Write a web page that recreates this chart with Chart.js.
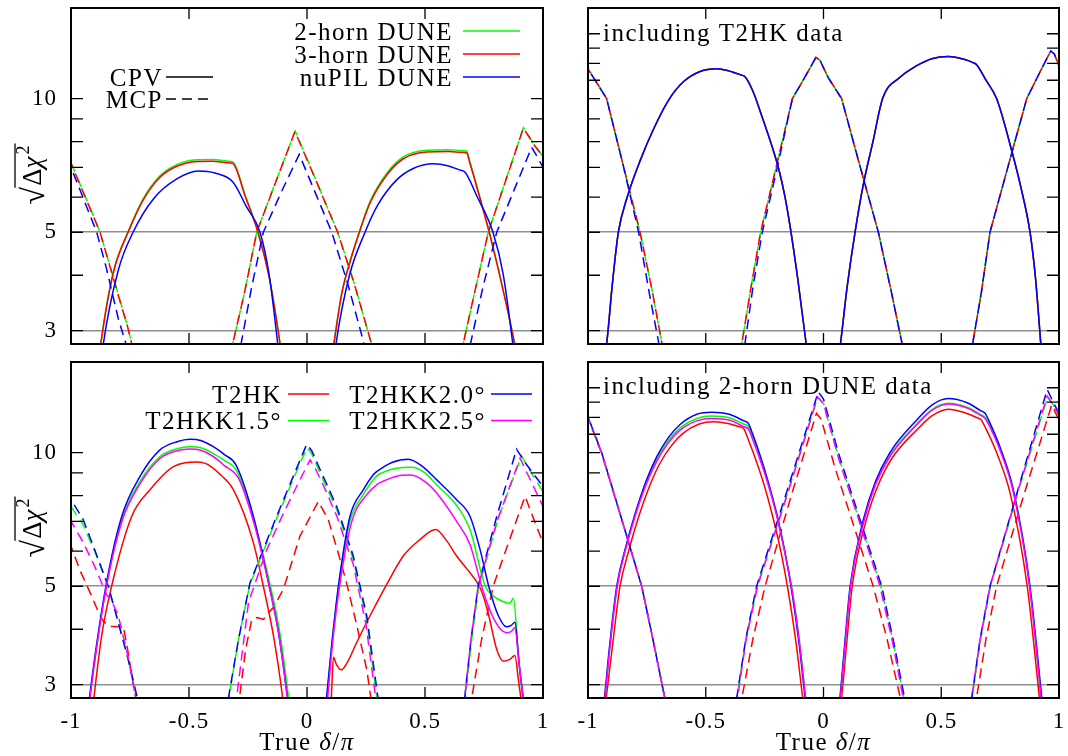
<!DOCTYPE html>
<html>
<head>
<meta charset="utf-8">
<script src="https://cdn.jsdelivr.net/npm/chart.js@4"></script>
<style>
  body { margin: 0; background: #fff; }
  #wrap { position: relative; width: 1068px; height: 756px; }
  canvas { position: absolute; }
</style>
</head>
<body>
<div id="wrap">
  <canvas id="tl" width="548" height="350" style="left:0;top:0"></canvas>
  <canvas id="tr" width="520" height="350" style="left:548px;top:0"></canvas>
  <canvas id="bl" width="548" height="406" style="left:0;top:350px"></canvas>
  <canvas id="br" width="520" height="406" style="left:548px;top:350px"></canvas>
</div>
<script>
// axis ticks
const deltaTicks = [-1, -0.5, 0, 0.5, 1];
const chiTicksLeft = [3, 4, 5, 6, 7, 8, 9, 10];
const chiTicksRight = [3, 4, 5, 6, 7, 8, 9, 10, 11, 12, 13, 14];
const chiLabels = [3, 5, 10];
const sigmaLines = [3, 5];

// ---- top left: DUNE configurations, [delta/pi, sqrt(dchi2)] ----
const dune2hCPV = [
  [[-0.88,2.65],[-0.874,2.8],[-0.845,3.52],[-0.814,4.2],[-0.758,5.02],[-0.695,5.94],[-0.623,6.7],[-0.552,7.1],[-0.467,7.28],[-0.4,7.29],[-0.335,7.23],[-0.314,7.2],[-0.263,6.08],[-0.208,5.02],[-0.16,3.96],[-0.114,2.8],[-0.108,2.65]],
  [[0.11,2.7],[0.114,2.8],[0.147,3.64],[0.182,4.3],[0.222,5.02],[0.267,5.86],[0.338,6.79],[0.408,7.39],[0.507,7.65],[0.6,7.67],[0.655,7.64],[0.677,7.61],[0.69,7.21],[0.705,6.77],[0.725,6.2],[0.75,5.55],[0.775,4.95],[0.81,4.15],[0.845,3.44],[0.87,2.98],[0.89,2.64]]
];
const dune3hCPV = [
  [[-0.88,2.65],[-0.874,2.8],[-0.845,3.5],[-0.814,4.18],[-0.758,5.0],[-0.695,5.9],[-0.623,6.65],[-0.552,7.04],[-0.467,7.22],[-0.4,7.23],[-0.335,7.17],[-0.314,7.14],[-0.263,6.05],[-0.208,5.0],[-0.16,3.95],[-0.114,2.8],[-0.108,2.65]],
  [[0.11,2.7],[0.114,2.8],[0.147,3.63],[0.182,4.28],[0.222,5.0],[0.267,5.82],[0.338,6.73],[0.408,7.32],[0.507,7.58],[0.6,7.6],[0.655,7.57],[0.677,7.54],[0.69,7.16],[0.705,6.73],[0.725,6.17],[0.75,5.53],[0.775,4.93],[0.81,4.14],[0.845,3.43],[0.87,2.97],[0.89,2.63]]
];
const nupilCPV = [
  [[-0.868,2.65],[-0.863,2.8],[-0.8,4.1],[-0.737,5.0],[-0.65,5.95],[-0.55,6.6],[-0.46,6.87],[-0.39,6.8],[-0.314,6.49],[-0.256,5.7],[-0.199,5.0],[-0.16,4.0],[-0.124,2.8],[-0.119,2.65]],
  [[0.118,2.65],[0.123,2.8],[0.18,4.0],[0.246,5.0],[0.3,5.76],[0.38,6.56],[0.45,6.96],[0.534,7.13],[0.6,7.05],[0.645,6.91],[0.669,6.83],[0.719,6.04],[0.788,5.0],[0.831,4.03],[0.872,2.8],[0.877,2.65]]
];
const dune2hMCP = [
  [[-1,7.17],[-0.95,6.2],[-0.9,5.37],[-0.877,5.0],[-0.85,4.47],[-0.8,3.62],[-0.76,3.07],[-0.735,2.7]],
  [[-0.322,2.7],[-0.265,3.65],[-0.213,5.0],[-0.13,6.55],[-0.05,8.45],[0.04,6.52],[0.13,5.0],[0.2,3.84],[0.282,2.7]],
  [[0.655,2.7],[0.71,3.65],[0.768,5.0],[0.84,6.5],[0.917,8.6],[0.96,7.92],[1.0,7.4]]
];
const dune3hMCP = [
  [[-1,7.15],[-0.95,6.18],[-0.9,5.35],[-0.877,5.0],[-0.85,4.46],[-0.8,3.61],[-0.76,3.06],[-0.735,2.7]],
  [[-0.322,2.7],[-0.265,3.65],[-0.213,5.0],[-0.13,6.54],[-0.051,8.43],[0.04,6.5],[0.13,5.0],[0.2,3.83],[0.282,2.7]],
  [[0.655,2.7],[0.71,3.65],[0.768,5.0],[0.84,6.49],[0.917,8.58],[0.96,7.9],[1.0,7.39]]
];
const nupilMCP = [
  [[-1,7.0],[-0.95,6.0],[-0.891,5.0],[-0.85,4.15],[-0.8,3.2],[-0.758,2.7]],
  [[-0.285,2.7],[-0.235,3.75],[-0.185,5.0],[-0.11,6.14],[-0.033,7.49],[0.035,6.14],[0.105,5.0],[0.175,3.79],[0.25,2.7]],
  [[0.686,2.7],[0.745,3.75],[0.804,5.0],[0.88,6.27],[0.952,7.77],[0.975,7.4],[1.0,7.0]]
];

// ---- top right: DUNE + T2HK ----
const withT2hkCPV = [
  [[-0.93,2.65],[-0.921,2.8],[-0.897,3.8],[-0.871,5.0],[-0.833,6.01],[-0.779,7.24],[-0.723,8.51],[-0.659,9.9],[-0.595,10.91],[-0.524,11.51],[-0.453,11.67],[-0.39,11.5],[-0.35,11.3],[-0.333,11.2],[-0.3,10.4],[-0.27,9.4],[-0.213,7.64],[-0.188,6.87],[-0.165,6.06],[-0.142,5.16],[-0.11,3.95],[-0.075,2.84],[-0.07,2.7]],
  [[0.065,2.65],[0.07,2.75],[0.1,3.75],[0.134,5.0],[0.169,6.4],[0.21,8.0],[0.251,10.0],[0.325,11.17],[0.396,11.86],[0.46,12.3],[0.53,12.44],[0.6,12.25],[0.635,12.05],[0.65,11.92],[0.69,11.0],[0.735,10.0],[0.799,7.64],[0.84,6.25],[0.877,5.0],[0.9,3.95],[0.925,2.7]]
];
const withT2hkMCP = [
  [[-1,11.66],[-0.96,10.8],[-0.921,10.0],[-0.85,7.06],[-0.779,5.0],[-0.73,3.75],[-0.68,2.7]],
  [[-0.352,2.7],[-0.31,3.7],[-0.267,5.0],[-0.2,7.05],[-0.132,10.0],[-0.08,11.15],[-0.032,12.38],[-0.015,12.2],[0.02,11.15],[0.077,10.0],[0.15,7.2],[0.233,5.0],[0.29,3.63],[0.34,2.7]],
  [[0.628,2.7],[0.67,3.65],[0.707,5.0],[0.78,6.92],[0.863,10.0],[0.92,11.5],[0.965,12.81],[0.98,12.6],[1.0,11.85]]
];
const withT2hkNupilMCP = [
  [[-1,11.66],[-0.96,10.8],[-0.921,10.0],[-0.85,7.06],[-0.785,5.0],[-0.74,3.65],[-0.693,2.7]],
  [[-0.338,2.7],[-0.3,3.75],[-0.26,5.0],[-0.2,6.85],[-0.132,10.0],[-0.08,11.15],[-0.032,12.38],[-0.015,12.2],[0.02,11.15],[0.077,10.0],[0.15,7.2],[0.233,5.0],[0.29,3.63],[0.34,2.7]],
  [[0.628,2.7],[0.67,3.65],[0.707,5.0],[0.78,6.92],[0.863,10.0],[0.92,11.5],[0.965,12.81],[0.98,12.6],[1.0,11.85]]
];

// ---- bottom left: T2HK / T2HKK ----
const t2hkCPV = [
  [[-0.908,2.65],[-0.903,2.8],[-0.87,3.87],[-0.828,5.0],[-0.743,7.18],[-0.665,8.25],[-0.566,9.3],[-0.467,9.52],[-0.435,9.47],[-0.419,9.4],[-0.37,8.95],[-0.312,8.25],[-0.227,6.26],[-0.185,5.0],[-0.14,3.81],[-0.103,2.8],[-0.098,2.65]],
  [[0.1,2.65],[0.103,2.8],[0.112,3.46],[0.125,3.33],[0.145,3.24],[0.175,3.4],[0.21,3.73],[0.267,4.29],[0.338,5.05],[0.408,5.85],[0.479,6.37],[0.545,6.71],[0.59,6.35],[0.634,5.85],[0.68,5.45],[0.73,5.0],[0.75,4.7],[0.77,4.3],[0.804,3.6],[0.832,3.39],[0.86,3.42],[0.881,3.49],[0.895,3.1],[0.91,2.7]]
];
const t2hkk15CPV = [
  [[-0.925,2.65],[-0.92,2.8],[-0.852,4.95],[-0.785,7.05],[-0.708,8.6],[-0.623,9.8],[-0.551,10.2],[-0.496,10.31],[-0.45,10.25],[-0.397,9.95],[-0.35,9.6],[-0.301,9.15],[-0.227,7.1],[-0.155,5.0],[-0.115,3.92],[-0.078,2.8],[-0.073,2.65]],
  [[0.082,2.7],[0.105,3.7],[0.133,4.95],[0.182,7.0],[0.239,8.05],[0.29,8.8],[0.309,8.96],[0.37,9.2],[0.443,9.27],[0.5,9.0],[0.55,8.45],[0.634,7.6],[0.691,6.7],[0.755,5.0],[0.79,4.75],[0.83,4.62],[0.86,4.58],[0.875,4.7],[0.895,3.5],[0.917,2.7]]
];
const t2hkk20CPV = [
  [[-0.927,2.65],[-0.922,2.8],[-0.852,5.0],[-0.785,7.18],[-0.708,8.83],[-0.623,10.14],[-0.551,10.58],[-0.496,10.72],[-0.45,10.65],[-0.397,10.31],[-0.35,9.9],[-0.301,9.38],[-0.227,7.18],[-0.16,5.0],[-0.12,3.91],[-0.083,2.8],[-0.078,2.65]],
  [[0.08,2.7],[0.105,3.7],[0.133,5.0],[0.182,7.18],[0.239,8.25],[0.28,8.9],[0.295,9.06],[0.32,9.25],[0.36,9.5],[0.429,9.66],[0.49,9.3],[0.55,8.68],[0.634,7.83],[0.691,7.18],[0.735,6.0],[0.77,5.0],[0.81,4.3],[0.845,4.05],[0.865,4.08],[0.881,4.15],[0.9,3.3],[0.92,2.7]]
];
const t2hkk25CPV = [
  [[-0.925,2.65],[-0.92,2.8],[-0.852,4.92],[-0.785,6.98],[-0.708,8.5],[-0.623,9.7],[-0.551,10.1],[-0.496,10.19],[-0.45,10.12],[-0.397,9.8],[-0.35,9.35],[-0.29,8.75],[-0.227,7.0],[-0.16,5.0],[-0.12,3.91],[-0.083,2.8],[-0.078,2.65]],
  [[0.085,2.7],[0.108,3.7],[0.138,5.0],[0.19,7.0],[0.25,8.0],[0.3,8.5],[0.32,8.61],[0.38,8.85],[0.44,8.9],[0.5,8.6],[0.55,8.1],[0.634,7.0],[0.691,6.2],[0.74,5.0],[0.78,4.35],[0.82,4.0],[0.845,3.93],[0.865,3.95],[0.88,4.03],[0.9,3.3],[0.92,2.7]]
];
const t2hkMCP = [
  [[-1,6.15],[-0.96,5.4],[-0.92,4.85],[-0.877,4.29],[-0.86,4.15],[-0.835,4.06],[-0.778,4.05],[-0.76,3.6],[-0.74,3.1],[-0.72,2.7]],
  [[-0.29,2.7],[-0.26,3.6],[-0.234,4.21],[-0.21,4.25],[-0.185,4.21],[-0.14,4.5],[-0.1,4.92],[-0.03,6.48],[0.048,7.76],[0.09,7.07],[0.13,6.0],[0.168,5.08],[0.21,4.1],[0.253,3.25],[0.275,2.7]],
  [[0.693,2.7],[0.74,3.8],[0.789,5.0],[0.86,6.4],[0.924,7.97],[0.96,7.1],[1.0,6.26]]
];
const t2hkk15MCP = [
  [[-1,7.56],[-0.95,6.9],[-0.9,6.0],[-0.842,5.0],[-0.8,4.15],[-0.76,3.46],[-0.713,2.7]],
  [[-0.336,2.7],[-0.29,3.8],[-0.242,5.05],[-0.129,7.1],[-0.03,9.45],[0.0,10.25],[0.02,9.95],[0.069,8.65],[0.126,7.45],[0.196,5.75],[0.253,4.2],[0.3,2.7]],
  [[0.668,2.7],[0.698,3.8],[0.728,5.0],[0.81,7.1],[0.909,9.83],[0.95,9.0],[1.0,8.17]]
];
const t2hkk20MCP = [
  [[-1,7.83],[-0.95,7.1],[-0.9,6.05],[-0.842,5.0],[-0.8,4.15],[-0.76,3.46],[-0.712,2.7]],
  [[-0.338,2.7],[-0.29,3.8],[-0.242,5.08],[-0.129,7.18],[-0.03,9.6],[-0.001,10.44],[0.02,10.1],[0.069,8.83],[0.126,7.56],[0.196,5.85],[0.253,4.29],[0.305,2.7]],
  [[0.665,2.7],[0.695,3.8],[0.725,5.0],[0.804,7.18],[0.888,10.18],[0.93,9.4],[1.0,8.39]]
];
const t2hkk25MCP = [
  [[-1,7.0],[-0.95,6.3],[-0.9,5.55],[-0.85,4.8],[-0.821,4.55],[-0.8,4.3],[-0.76,3.5],[-0.72,2.7]],
  [[-0.302,2.7],[-0.27,3.7],[-0.248,4.59],[-0.23,4.9],[-0.17,6.05],[-0.1,7.3],[-0.03,8.68],[0.013,9.63],[0.04,9.1],[0.08,8.2],[0.126,7.2],[0.196,5.6],[0.25,4.1],[0.295,2.7]],
  [[0.665,2.7],[0.695,3.8],[0.725,5.0],[0.805,7.0],[0.903,9.71],[0.95,8.6],[1.0,7.56]]
];

// ---- bottom right: T2HK / T2HKK + 2-horn DUNE ----
const dT2hkCPV = [
  [[-0.93,2.65],[-0.925,2.75],[-0.898,3.6],[-0.864,5.0],[-0.826,6.04],[-0.786,7.14],[-0.74,8.37],[-0.695,9.45],[-0.645,10.38],[-0.597,11.05],[-0.528,11.6],[-0.468,11.74],[-0.4,11.62],[-0.36,11.45],[-0.34,11.34],[-0.318,10.65],[-0.297,9.95],[-0.255,8.55],[-0.215,7.15],[-0.18,5.95],[-0.15,4.88],[-0.117,3.74],[-0.085,2.7]],
  [[0.07,2.65],[0.075,2.75],[0.098,3.7],[0.122,5.0],[0.18,7.0],[0.23,8.4],[0.29,9.7],[0.4,11.3],[0.46,12.1],[0.53,12.53],[0.6,12.3],[0.65,12.0],[0.67,11.84],[0.685,11.45],[0.735,10.0],[0.795,8.0],[0.865,5.0],[0.92,2.7]]
];
const dT2hkk15CPV = [
  [[-0.935,2.65],[-0.93,2.75],[-0.908,3.6],[-0.876,5.0],[-0.84,6.09],[-0.8,7.23],[-0.754,8.52],[-0.708,9.66],[-0.658,10.66],[-0.609,11.37],[-0.538,11.94],[-0.475,12.09],[-0.4,11.98],[-0.34,11.6],[-0.319,11.45],[-0.3,10.8],[-0.28,10.1],[-0.24,8.7],[-0.199,7.25],[-0.165,6.0],[-0.133,4.9],[-0.103,3.78],[-0.073,2.7]],
  [[0.065,2.65],[0.07,2.75],[0.092,3.7],[0.115,5.0],[0.17,7.0],[0.22,8.5],[0.282,9.85],[0.396,11.6],[0.46,12.5],[0.53,12.91],[0.61,12.65],[0.665,12.2],[0.686,12.0],[0.7,11.65],[0.749,10.2],[0.806,8.2],[0.875,5.0],[0.927,2.7]]
];
const dT2hkk20CPV = [
  [[-0.937,2.65],[-0.932,2.75],[-0.91,3.6],[-0.878,5.0],[-0.84,6.12],[-0.8,7.28],[-0.754,8.61],[-0.708,9.79],[-0.658,10.82],[-0.609,11.57],[-0.538,12.2],[-0.475,12.33],[-0.4,12.2],[-0.34,11.8],[-0.319,11.64],[-0.3,10.98],[-0.28,10.25],[-0.24,8.78],[-0.199,7.29],[-0.165,6.02],[-0.135,4.88],[-0.105,3.76],[-0.075,2.7]],
  [[0.063,2.65],[0.068,2.75],[0.09,3.7],[0.113,5.0],[0.169,7.05],[0.22,8.59],[0.282,10.0],[0.396,11.84],[0.46,12.8],[0.53,13.24],[0.61,12.95],[0.665,12.45],[0.686,12.26],[0.7,11.87],[0.749,10.31],[0.806,8.25],[0.877,5.0],[0.93,2.7]]
];
const dT2hkk25CPV = [
  [[-0.935,2.65],[-0.93,2.75],[-0.908,3.6],[-0.876,5.0],[-0.84,6.06],[-0.8,7.19],[-0.754,8.45],[-0.708,9.56],[-0.658,10.53],[-0.609,11.24],[-0.538,11.79],[-0.475,11.94],[-0.4,11.84],[-0.34,11.45],[-0.319,11.3],[-0.3,10.68],[-0.28,10.0],[-0.24,8.64],[-0.199,7.22],[-0.165,5.98],[-0.133,4.88],[-0.103,3.77],[-0.073,2.7]],
  [[0.065,2.65],[0.07,2.75],[0.092,3.7],[0.115,5.0],[0.17,6.95],[0.22,8.45],[0.282,9.8],[0.396,11.55],[0.46,12.45],[0.53,12.87],[0.61,12.6],[0.665,12.15],[0.686,11.95],[0.7,11.6],[0.749,10.15],[0.806,8.15],[0.875,5.0],[0.927,2.7]]
];
const dT2hkMCP = [
  [[-1,11.95],[-0.942,9.95],[-0.86,7.15],[-0.772,5.0],[-0.72,3.7],[-0.668,2.7]],
  [[-0.352,2.7],[-0.3,3.8],[-0.248,5.0],[-0.14,7.9],[-0.03,12.26],[-0.01,11.9],[0.05,9.2],[0.13,6.8],[0.211,5.0],[0.27,3.8],[0.333,2.7]],
  [[0.645,2.7],[0.69,3.8],[0.735,5.0],[0.85,8.0],[0.969,12.8],[0.985,12.3],[1.0,11.84]]
];
const dT2hkk15MCP = [
  [[-1,12.04],[-0.942,10.0],[-0.86,7.17],[-0.772,5.0],[-0.72,3.7],[-0.668,2.7]],
  [[-0.372,2.7],[-0.33,3.8],[-0.282,5.0],[-0.15,8.2],[-0.025,13.35],[0.0,12.9],[0.063,9.8],[0.15,7.1],[0.243,5.0],[0.298,3.7],[0.347,2.7]],
  [[0.627,2.7],[0.667,3.8],[0.709,5.0],[0.83,8.3],[0.952,13.35],[0.976,12.8],[1.0,12.1]]
];
const dT2hkk20MCP = [
  [[-1,12.04],[-0.942,10.0],[-0.86,7.17],[-0.772,5.0],[-0.72,3.7],[-0.668,2.7]],
  [[-0.373,2.7],[-0.33,3.8],[-0.284,5.0],[-0.15,8.35],[-0.022,13.71],[0.0,13.2],[0.063,10.0],[0.15,7.2],[0.247,5.0],[0.3,3.7],[0.35,2.7]],
  [[0.625,2.7],[0.665,3.8],[0.707,5.0],[0.83,8.4],[0.95,13.87],[0.975,13.0],[1.0,12.26]]
];
const dT2hkk25MCP = [
  [[-1,12.04],[-0.942,10.0],[-0.86,7.17],[-0.772,5.0],[-0.72,3.7],[-0.668,2.7]],
  [[-0.37,2.7],[-0.328,3.8],[-0.28,5.0],[-0.15,8.15],[-0.025,13.35],[0.0,12.9],[0.063,9.75],[0.15,7.05],[0.24,5.0],[0.295,3.7],[0.344,2.7]],
  [[0.625,2.7],[0.665,3.8],[0.707,5.0],[0.83,8.35],[0.95,13.4],[0.975,12.8],[1.0,12.15]]
];

const FONT = 'Liberation Serif';
const GREEN = '#00ff00', RED = '#ff0000', BLUE = '#0000ff', MAGENTA = '#ff00ff';
const dashShift = { [GREEN]: 0, [RED]: 5, [BLUE]: 10, [MAGENTA]: 3 };

// arcs -> chart points, with a null between arcs so the line breaks
function toPoints(arcs) {
  const out = [];
  arcs.forEach((arc, i) => {
    if (i > 0) out.push({ x: arc[0][0], y: null });
    arc.forEach(p => out.push({ x: p[0], y: p[1] }));
  });
  return out;
}

function series(arcs, color, dashed, layer) {
  return {
    data: toPoints(arcs),
    borderColor: color,
    borderWidth: 1.5,
    borderDash: dashed ? [10, 6] : [],
    borderDashOffset: dashed ? dashShift[color] : 0,
    // CPV arcs are smooth, MCP curves are straight-ish V shapes
    cubicInterpolationMode: dashed ? 'default' : 'monotone',
    capBezierPoints: false,
    pointRadius: 0,
    fill: false,
    tension: 0,
    spanGaps: false,
    clip: 0,
    order: layer
  };
}

// slightly wider text, closer to the TeX look of the original
const spacing = {
  id: 'spacing',
  beforeDraw(chart) { chart.ctx.letterSpacing = '1px'; }
};

// frame, inward ticks, legends and axis titles
const decor = {
  id: 'decor',
  afterDatasetsDraw(chart, args, o) {
    const { ctx, chartArea: a } = chart;
    const sx = chart.scales.x, sy = chart.scales.y;
    ctx.save();
    ctx.strokeStyle = '#000';
    ctx.lineWidth = 1.3;
    ctx.beginPath();
    sy.ticks.forEach(t => {
      const py = sy.getPixelForValue(t.value);
      ctx.moveTo(a.left, py); ctx.lineTo(a.left + 12, py);
      ctx.moveTo(a.right, py); ctx.lineTo(a.right - 12, py);
    });
    sx.ticks.forEach(t => {
      if (Math.abs(t.value) === 1) return;
      const px = sx.getPixelForValue(t.value);
      ctx.moveTo(px, a.top); ctx.lineTo(px, a.top + 11);
      ctx.moveTo(px, a.bottom); ctx.lineTo(px, a.bottom - 11);
    });
    ctx.stroke();
    ctx.lineWidth = 2;
    ctx.strokeRect(a.left, a.top, a.right - a.left, a.bottom - a.top);

    ctx.fillStyle = '#000';
    ctx.textBaseline = 'alphabetic';
    ctx.letterSpacing = '1.5px';
    ctx.font = '25px ' + FONT;
    (o.legend || []).forEach(e => {
      ctx.textAlign = 'right';
      ctx.fillText(e.text, e.tx, e.y + 8.5);
      ctx.beginPath();
      ctx.setLineDash(e.dash ? [10, 6] : []);
      ctx.strokeStyle = e.color;
      ctx.lineWidth = 1.5;
      ctx.moveTo(e.x0, e.y); ctx.lineTo(e.x1, e.y);
      ctx.stroke();
      ctx.setLineDash([]);
    });
    if (o.note) {
      ctx.textAlign = 'left';
      ctx.fillText(o.note.text, o.note.x, o.note.y);
    }
    if (o.xTitle) {
      const runs = [['True ', ''], ['δ', 'italic '], ['/', ''], ['π', 'italic ']];
      let w = 0;
      runs.forEach(r => { ctx.font = r[1] + '25px ' + FONT; w += ctx.measureText(r[0]).width; });
      let cx = o.xTitle.x - w / 2;
      ctx.textAlign = 'left';
      runs.forEach(r => {
        ctx.font = r[1] + '25px ' + FONT;
        ctx.fillText(r[0], cx, o.xTitle.y);
        cx += ctx.measureText(r[0]).width;
      });
    }
    if (o.yTitle) {
      ctx.letterSpacing = '0px';
      ctx.translate(o.yTitle.x, o.yTitle.y);
      ctx.rotate(-Math.PI / 2);
      ctx.textAlign = 'left';
      ctx.font = '32px ' + FONT;
      const wr = ctx.measureText('√').width;
      ctx.font = '27px ' + FONT;
      const wd = ctx.measureText('Δ').width;
      ctx.font = 'italic 27px ' + FONT;
      const wc = ctx.measureText('χ').width;
      ctx.font = '18px ' + FONT;
      const ws = ctx.measureText('2').width;
      const total = wr + wd + wc + ws + 3;
      let cx = -total / 2;
      ctx.font = '32px ' + FONT;
      ctx.fillText('√', cx, 3);
      cx += wr;
      ctx.font = '27px ' + FONT;
      ctx.fillText('Δ', cx + 1, 0);
      ctx.font = 'italic 27px ' + FONT;
      ctx.fillText('χ', cx + wd + 1, 0);
      ctx.font = '18px ' + FONT;
      ctx.fillText('2', cx + wd + wc + 3, -12);
      ctx.lineWidth = 1.3;
      ctx.strokeStyle = '#000';
      ctx.beginPath();
      ctx.moveTo(cx - 1, -26); ctx.lineTo(total / 2 + 2, -26);
      ctx.stroke();
    }
    ctx.restore();
  }
};

function makePanel(id, p) {
  const tickFont = { family: FONT, size: 23 };
  new Chart(document.getElementById(id), {
    type: 'line',
    data: { datasets: p.datasets },
    options: {
      responsive: false,
      animation: false,
      devicePixelRatio: 1,
      layout: { padding: p.padding },
      plugins: {
        legend: { display: false },
        tooltip: { enabled: false },
        decor: p.decor
      },
      scales: {
        x: {
          type: 'linear', min: -1, max: 1, position: 'bottom',
          afterBuildTicks: s => { s.ticks = deltaTicks.map(v => ({ value: v })); },
          afterFit: s => { s.height = p.xHeight; s.paddingLeft = 0; s.paddingRight = 0; },
          grid: { display: false, drawTicks: false },
          border: { display: false },
          ticks: {
            display: p.xLabels, padding: 10, font: tickFont, color: '#000',
            maxRotation: 0, autoSkip: false, callback: v => String(v)
          }
        },
        y: {
          type: 'logarithmic', min: 2.8, max: 16, position: 'left',
          afterBuildTicks: s => { s.ticks = p.yTicks.map(v => ({ value: v })); },
          afterFit: s => { s.width = p.yWidth; s.paddingTop = 0; s.paddingBottom = 0; },
          grid: {
            drawTicks: false, lineWidth: 1.5,
            color: c => (c.tick && sigmaLines.includes(c.tick.value)) ? '#8f8f8f' : 'rgba(0,0,0,0)'
          },
          border: { display: false },
          ticks: {
            display: p.yLabels, padding: 14, font: tickFont, color: '#000', autoSkip: false,
            callback: v => chiLabels.includes(v) ? String(v) : ''
          }
        }
      }
    },
    plugins: [spacing, decor]
  });
}

makePanel('tl', {
  padding: { left: 0, right: 5, top: 8, bottom: 0 }, yWidth: 71, xHeight: 6,
  xLabels: false, yLabels: true, yTicks: chiTicksLeft,
  datasets: [
    series(dune2hCPV, GREEN, false, 3), series(dune3hCPV, RED, false, 2), series(nupilCPV, BLUE, false, 1),
    series(dune2hMCP, GREEN, true, 3), series(dune3hMCP, RED, true, 2), series(nupilMCP, BLUE, true, 1)
  ],
  decor: {
    legend: [
      { text: '2-horn DUNE', color: GREEN, tx: 453, x0: 463, x1: 520, y: 31 },
      { text: '3-horn DUNE', color: RED, tx: 453, x0: 463, x1: 520, y: 54 },
      { text: 'nuPIL DUNE', color: BLUE, tx: 453, x0: 463, x1: 520, y: 77 },
      { text: 'CPV', color: '#000', tx: 163, x0: 166, x1: 213, y: 77 },
      { text: 'MCP', color: '#000', dash: true, tx: 163, x0: 166, x1: 213, y: 99 }
    ],
    yTitle: { x: 41, y: 175 }
  }
});

makePanel('tr', {
  padding: { left: 0, right: 9, top: 8, bottom: 0 }, yWidth: 40, xHeight: 6,
  xLabels: false, yLabels: false, yTicks: chiTicksRight,
  datasets: [
    series(withT2hkCPV, GREEN, false, 3), series(withT2hkCPV, RED, false, 2), series(withT2hkCPV, BLUE, false, 1),
    series(withT2hkMCP, GREEN, true, 3), series(withT2hkMCP, RED, true, 2), series(withT2hkNupilMCP, BLUE, true, 1)
  ],
  decor: { note: { text: 'including T2HK data', x: 55, y: 41 } }
});

makePanel('bl', {
  padding: { left: 0, right: 5, top: 12, bottom: 0 }, yWidth: 71, xHeight: 58,
  xLabels: true, yLabels: true, yTicks: chiTicksLeft,
  datasets: [
    series(t2hkCPV, RED, false, 4), series(t2hkk15CPV, GREEN, false, 3),
    series(t2hkk20CPV, BLUE, false, 2), series(t2hkk25CPV, MAGENTA, false, 1),
    series(t2hkMCP, RED, true, 4), series(t2hkk15MCP, GREEN, true, 3),
    series(t2hkk20MCP, BLUE, true, 2), series(t2hkk25MCP, MAGENTA, true, 1)
  ],
  decor: {
    legend: [
      { text: 'T2HK', color: RED, tx: 282, x0: 288, x1: 329, y: 44 },
      { text: 'T2HKK1.5°', color: GREEN, tx: 282, x0: 288, x1: 329, y: 70.5 },
      { text: 'T2HKK2.0°', color: BLUE, tx: 486, x0: 491, x1: 532, y: 44 },
      { text: 'T2HKK2.5°', color: MAGENTA, tx: 486, x0: 491, x1: 532, y: 70.5 }
    ],
    yTitle: { x: 41, y: 178 },
    xTitle: { x: 307, y: 400 }
  }
});

makePanel('br', {
  padding: { left: 0, right: 9, top: 12, bottom: 0 }, yWidth: 40, xHeight: 58,
  xLabels: true, yLabels: false, yTicks: chiTicksRight,
  datasets: [
    series(dT2hkCPV, RED, false, 4), series(dT2hkk15CPV, GREEN, false, 3),
    series(dT2hkk20CPV, BLUE, false, 2), series(dT2hkk25CPV, MAGENTA, false, 1),
    series(dT2hkMCP, RED, true, 4), series(dT2hkk15MCP, GREEN, true, 3),
    series(dT2hkk20MCP, BLUE, true, 2), series(dT2hkk25MCP, MAGENTA, true, 1)
  ],
  decor: {
    note: { text: 'including 2-horn DUNE data', x: 55, y: 43.5 },
    xTitle: { x: 275.5, y: 400 }
  }
});
</script>
</body>
</html>
